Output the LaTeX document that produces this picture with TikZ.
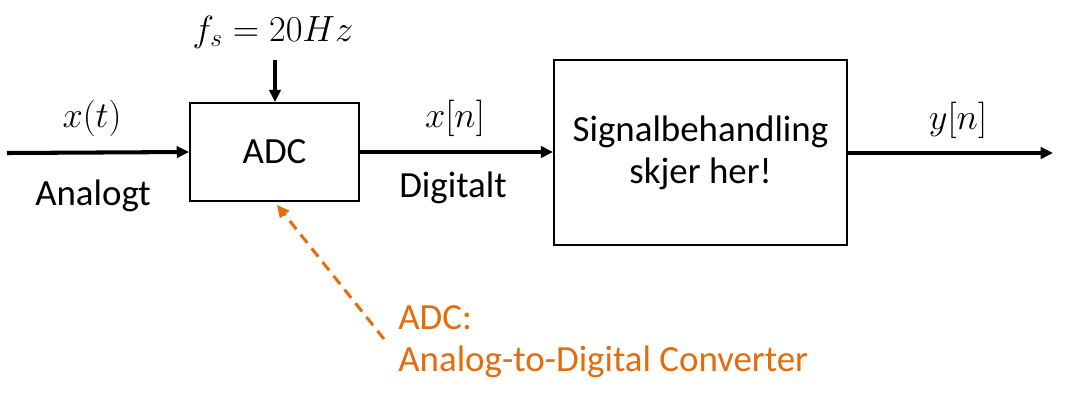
\documentclass[tikz,border=0pt]{standalone}
\usepackage{fontspec}
\setmainfont{Carlito}
\usetikzlibrary{arrows.meta,positioning}

\definecolor{noteorange}{RGB}{228,108,10}

\tikzstyle{block} = [draw, rectangle, line width=1.1pt, text centered, align=center, font=\fontsize{21}{24}\selectfont]
\tikzstyle{adc-block} = [block, minimum width=3.38cm, minimum height=1.96cm]
\tikzstyle{dsp-block} = [block, minimum width=5.86cm, minimum height=3.7cm]
\tikzstyle{signal} = [line width=2.3pt, ->, >={Triangle[length=7pt,width=6.5pt]}]
\tikzstyle{label} = [font=\fontsize{21}{24}\selectfont, inner sep=0pt]
\tikzstyle{note} = [label, text=noteorange, align=left]

\begin{document}
\begin{tikzpicture}[x=0.02cm,y=-0.02cm]

	\useasboundingbox (0,0) rectangle (1075,407);

	 \node [adc-block] (ADC) at (274.5,152) {ADC};
	 \node [dsp-block] (DSP) at (700.5,152.5) {Signalbehandling\\skjer her!};

	 \coordinate (in) at (7,153);
	 \coordinate (out) at (1053,153);
	 \coordinate (clk) at (275,60);
	 \coordinate (tail) at (384,339);

	\draw [signal] (in) -- (ADC.west);
	\draw [signal] (ADC.east) -- (ADC.east -| DSP.west);
	\draw [signal] (DSP.east |- out) -- (out);
	\draw [signal] (clk) -- (clk |- ADC.north);

	% signal labels
	\node [label] (xt) at (92,118) {$x(t)$};
	\node [label] (analog) at (93,196) {Analogt};
	\node [label] (xn) at (455,118) {$x[n]$};
	\node [label] (digital) at (453,188) {Digitalt};
	\node [label] (yn) at (958,120) {$y[n]$};
	\node [label] (fs) at (273,32) {$f_s=20Hz$};

	% explanation of ADC
	\node [note, anchor=west] (adcnote) at (398,342) {ADC:\\Analog-to-Digital Converter};
	\draw [noteorange, line width=1.7pt, dashed, dash pattern=on 6pt off 4pt, ->, >={Triangle[length=7pt,width=6.5pt]}] (tail) -- ([xshift=0.05cm,yshift=-0.06cm]ADC.south);

\end{tikzpicture}
\end{document}
